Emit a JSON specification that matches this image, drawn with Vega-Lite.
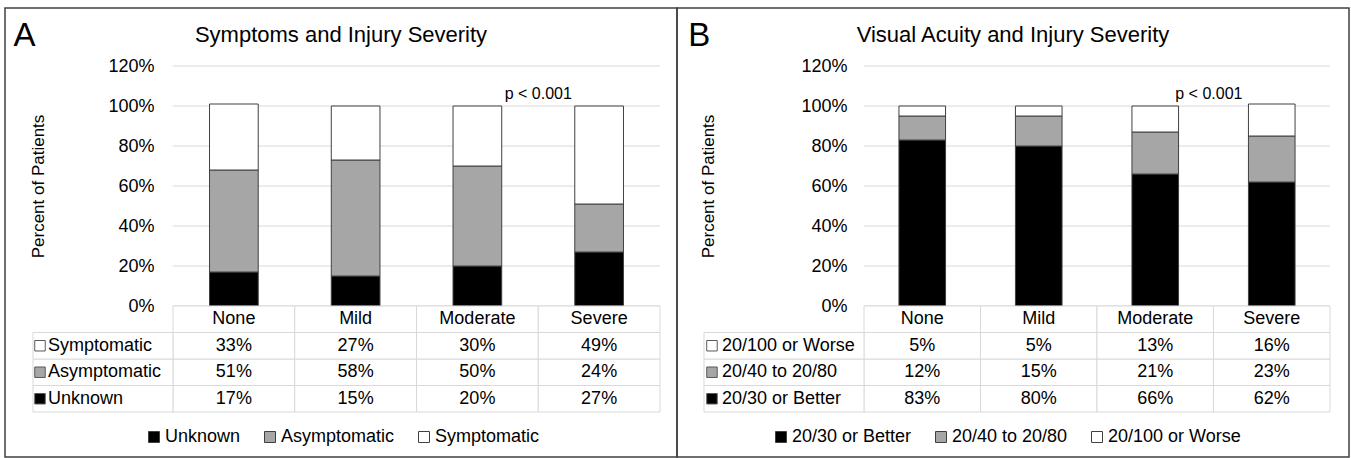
{
  "$schema": "https://vega.github.io/schema/vega-lite/v6.json",
  "padding": {"left": 4, "top": 7, "right": 0, "bottom": 0},
  "autosize": {"type": "pad"},
  "background": "white",
  "spacing": 0,
  "bounds": "flush",
  "resolve": {"scale": {"color": "independent", "fill": "independent", "x": "independent", "y": "independent"}, "legend": {"color": "independent"}},
  "config": {
    "font": "Liberation Sans",
    "view": {"stroke": "#404040", "strokeWidth": 1.5},
    "text": {"color": "black", "font": "Liberation Sans"}
  },
  "datasets": {
    "sym": [
      {"severity": "None", "group": "Unknown", "percent": 17},
      {"severity": "None", "group": "Asymptomatic", "percent": 51},
      {"severity": "None", "group": "Symptomatic", "percent": 33},
      {"severity": "Mild", "group": "Unknown", "percent": 15},
      {"severity": "Mild", "group": "Asymptomatic", "percent": 58},
      {"severity": "Mild", "group": "Symptomatic", "percent": 27},
      {"severity": "Moderate", "group": "Unknown", "percent": 20},
      {"severity": "Moderate", "group": "Asymptomatic", "percent": 50},
      {"severity": "Moderate", "group": "Symptomatic", "percent": 30},
      {"severity": "Severe", "group": "Unknown", "percent": 27},
      {"severity": "Severe", "group": "Asymptomatic", "percent": 24},
      {"severity": "Severe", "group": "Symptomatic", "percent": 49}
    ],
    "va": [
      {"severity": "None", "group": "20/30 or Better", "percent": 83},
      {"severity": "None", "group": "20/40 to 20/80", "percent": 12},
      {"severity": "None", "group": "20/100 or Worse", "percent": 5},
      {"severity": "Mild", "group": "20/30 or Better", "percent": 80},
      {"severity": "Mild", "group": "20/40 to 20/80", "percent": 15},
      {"severity": "Mild", "group": "20/100 or Worse", "percent": 5},
      {"severity": "Moderate", "group": "20/30 or Better", "percent": 66},
      {"severity": "Moderate", "group": "20/40 to 20/80", "percent": 21},
      {"severity": "Moderate", "group": "20/100 or Worse", "percent": 13},
      {"severity": "Severe", "group": "20/30 or Better", "percent": 62},
      {"severity": "Severe", "group": "20/40 to 20/80", "percent": 23},
      {"severity": "Severe", "group": "20/100 or Worse", "percent": 16}
    ],
    "severities": [
      {"severity": "None"}, {"severity": "Mild"}, {"severity": "Moderate"}, {"severity": "Severe"}
    ],
    "grid": [
      {"tick": 0}, {"tick": 20}, {"tick": 40}, {"tick": 60}, {"tick": 80}, {"tick": 100}, {"tick": 120}
    ]
  },
  "hconcat": [
    {
      "width": 672,
      "height": 449,
      "title": {"text": "Symptoms and Injury Severity", "frame": "group", "offset": -49, "baseline": "middle", "anchor": "middle", "fontSize": 22, "fontWeight": "normal", "color": "black", "font": "Liberation Sans"},
      "resolve": {"scale": {"y": "independent"}, "axis": {"y": "independent"}},
      "layer": [
        {
          "data": {"name": "grid"},
          "mark": {"type": "rule", "color": "#d9d9d9", "strokeWidth": 1},
          "encoding": {
            "x": {"datum": "None", "type": "nominal", "bandPosition": 0, "axis": null,
                  "scale": {"type": "band", "domain": ["None", "Mild", "Moderate", "Severe"], "range": [168, 655], "paddingInner": 0, "paddingOuter": 0}},
            "x2": {"datum": "Severe", "bandPosition": 1},
            "y": {"field": "tick", "type": "quantitative", "axis": null,
                  "scale": {"domain": [0, 120], "range": [298, 58], "nice": false, "zero": false}}
          }
        },
        {
          "data": {"name": "sym"},
          "transform": [{"calculate": "indexof(['Unknown','Asymptomatic','Symptomatic'], datum.group)", "as": "rank"}],
          "mark": {"type": "bar", "width": {"band": 0.4}, "stroke": "#404040", "strokeWidth": 1},
          "encoding": {
            "x": {"field": "severity", "type": "nominal", "axis": null},
            "y": {"field": "percent", "type": "quantitative", "stack": "zero",
                  "scale": {"domain": [0, 120], "range": [298, 58], "nice": false, "zero": false},
                  "axis": {"title": "Percent of Patients", "values": [0, 20, 40, 60, 80, 100, 120], "labelExpr": "datum.value + '%'",
                           "grid": false, "ticks": false, "domain": false, "offset": -168, "labelPadding": 19,
                           "labelFontSize": 18, "labelColor": "black", "labelFont": "Liberation Sans",
                           "titleFontSize": 17, "titleFontWeight": "normal", "titleColor": "black", "titleFont": "Liberation Sans", "titlePadding": 60}},
            "order": {"field": "rank", "type": "quantitative"},
            "color": {"field": "group", "type": "nominal", "sort": ["Unknown", "Asymptomatic", "Symptomatic"],
                      "scale": {"domain": ["Unknown", "Asymptomatic", "Symptomatic"], "range": ["#000000", "#a6a6a6", "#ffffff"]},
                      "legend": {"orient": "none", "legendX": 140, "legendY": 420, "direction": "horizontal", "title": null,
                                 "labelFontSize": 18, "labelColor": "black", "labelFont": "Liberation Sans", "symbolType": "square", "symbolSize": 121,
                                 "symbolOpacity": 1, "symbolStrokeColor": "#404040", "symbolStrokeWidth": 1, "columnPadding": 20, "labelOffset": 2}}
          }
        },
        {
          "data": {"values": [{"p": "p < 0.001"}]},
          "mark": {"type": "text", "fontSize": 16, "align": "center", "baseline": "middle"},
          "encoding": {
            "x": {"datum": "Severe", "type": "nominal", "bandPosition": 0, "axis": null},
            "y": {"datum": 106, "type": "quantitative", "axis": null,
                  "scale": {"domain": [0, 120], "range": [298, 58], "nice": false, "zero": false}},
            "text": {"field": "p"}
          }
        },
        {
          "data": {"values": [{"panel": "A"}]},
          "mark": {"type": "text", "fontSize": 33, "align": "center", "baseline": "middle"},
          "encoding": {
            "x": {"datum": "None", "type": "nominal", "bandPosition": -1.22, "axis": null},
            "y": {"datum": 135, "type": "quantitative", "axis": null,
                  "scale": {"domain": [0, 120], "range": [298, 58], "nice": false, "zero": false}},
            "text": {"field": "panel"}
          }
        },
        {
          "data": {"name": "severities"},
          "mark": {"type": "rect", "fill": "white", "stroke": "#d9d9d9", "strokeWidth": 1},
          "encoding": {
            "x": {"field": "severity", "type": "nominal", "axis": null},
            "y": {"datum": "header", "type": "nominal", "axis": null,
                  "scale": {"type": "band", "domain": ["header", "Symptomatic", "Asymptomatic", "Unknown"], "range": [298, 404], "paddingInner": 0, "paddingOuter": 0}}
          }
        },
        {
          "data": {"name": "sym"},
          "mark": {"type": "rect", "fill": "white", "stroke": "#d9d9d9", "strokeWidth": 1},
          "encoding": {
            "x": {"field": "severity", "type": "nominal", "axis": null},
            "y": {"field": "group", "type": "nominal", "axis": null,
                  "scale": {"type": "band", "domain": ["header", "Symptomatic", "Asymptomatic", "Unknown"], "range": [298, 404], "paddingInner": 0, "paddingOuter": 0}}
          }
        },
        {
          "data": {"name": "sym"},
          "transform": [{"filter": "datum.severity === 'None'"}],
          "mark": {"type": "rect", "fill": "white", "stroke": "#d9d9d9", "strokeWidth": 1},
          "encoding": {
            "x": {"datum": "None", "type": "nominal", "bandPosition": -1.15, "axis": null},
            "x2": {"datum": "None", "bandPosition": 0},
            "y": {"field": "group", "type": "nominal", "axis": null,
                  "scale": {"type": "band", "domain": ["header", "Symptomatic", "Asymptomatic", "Unknown"], "range": [298, 404], "paddingInner": 0, "paddingOuter": 0}}
          }
        },
        {
          "data": {"name": "severities"},
          "mark": {"type": "text", "fontSize": 18, "baseline": "middle", "align": "center"},
          "encoding": {
            "x": {"field": "severity", "type": "nominal", "axis": null},
            "y": {"datum": "header", "type": "nominal", "axis": null,
                  "scale": {"type": "band", "domain": ["header", "Symptomatic", "Asymptomatic", "Unknown"], "range": [298, 404], "paddingInner": 0, "paddingOuter": 0}},
            "text": {"field": "severity"}
          }
        },
        {
          "data": {"name": "sym"},
          "transform": [{"calculate": "datum.percent + '%'", "as": "label"}],
          "mark": {"type": "text", "fontSize": 18, "baseline": "middle", "align": "center"},
          "encoding": {
            "x": {"field": "severity", "type": "nominal", "axis": null},
            "y": {"field": "group", "type": "nominal", "axis": null,
                  "scale": {"type": "band", "domain": ["header", "Symptomatic", "Asymptomatic", "Unknown"], "range": [298, 404], "paddingInner": 0, "paddingOuter": 0}},
            "text": {"field": "label"}
          }
        },
        {
          "data": {"name": "sym"},
          "transform": [{"filter": "datum.severity === 'None'"}],
          "mark": {"type": "text", "fontSize": 18, "baseline": "middle", "align": "left"},
          "encoding": {
            "x": {"datum": "None", "type": "nominal", "bandPosition": -1.0267, "axis": null},
            "y": {"field": "group", "type": "nominal", "axis": null,
                  "scale": {"type": "band", "domain": ["header", "Symptomatic", "Asymptomatic", "Unknown"], "range": [298, 404], "paddingInner": 0, "paddingOuter": 0}},
            "text": {"field": "group"}
          }
        },
        {
          "data": {"name": "sym"},
          "transform": [{"filter": "datum.severity === 'None'"}],
          "mark": {"type": "square", "size": 110, "stroke": "#595959", "strokeWidth": 1, "opacity": 1},
          "encoding": {
            "x": {"datum": "None", "type": "nominal", "bandPosition": -1.0924, "axis": null},
            "y": {"field": "group", "type": "nominal", "axis": null,
                  "scale": {"type": "band", "domain": ["header", "Symptomatic", "Asymptomatic", "Unknown"], "range": [298, 404], "paddingInner": 0, "paddingOuter": 0}},
            "fill": {"field": "group", "type": "nominal", "legend": null,
                     "scale": {"domain": ["Unknown", "Asymptomatic", "Symptomatic"], "range": ["#000000", "#a6a6a6", "#ffffff"]}}
          }
        }
      ]
    },
    {
      "width": 672,
      "height": 449,
      "title": {"text": "Visual Acuity and Injury Severity", "frame": "group", "offset": -49, "baseline": "middle", "anchor": "middle", "fontSize": 22, "fontWeight": "normal", "color": "black", "font": "Liberation Sans"},
      "resolve": {"scale": {"y": "independent"}, "axis": {"y": "independent"}},
      "layer": [
        {
          "data": {"name": "grid"},
          "mark": {"type": "rule", "color": "#d9d9d9", "strokeWidth": 1},
          "encoding": {
            "x": {"datum": "None", "type": "nominal", "bandPosition": 0, "axis": null,
                  "scale": {"type": "band", "domain": ["None", "Mild", "Moderate", "Severe"], "range": [187, 653], "paddingInner": 0, "paddingOuter": 0}},
            "x2": {"datum": "Severe", "bandPosition": 1},
            "y": {"field": "tick", "type": "quantitative", "axis": null,
                  "scale": {"domain": [0, 120], "range": [298, 58], "nice": false, "zero": false}}
          }
        },
        {
          "data": {"name": "va"},
          "transform": [{"calculate": "indexof(['20/30 or Better','20/40 to 20/80','20/100 or Worse'], datum.group)", "as": "rank"}],
          "mark": {"type": "bar", "width": {"band": 0.4}, "stroke": "#404040", "strokeWidth": 1},
          "encoding": {
            "x": {"field": "severity", "type": "nominal", "axis": null},
            "y": {"field": "percent", "type": "quantitative", "stack": "zero",
                  "scale": {"domain": [0, 120], "range": [298, 58], "nice": false, "zero": false},
                  "axis": {"title": "Percent of Patients", "values": [0, 20, 40, 60, 80, 100, 120], "labelExpr": "datum.value + '%'",
                           "grid": false, "ticks": false, "domain": false, "offset": -187, "labelPadding": 17,
                           "labelFontSize": 18, "labelColor": "black", "labelFont": "Liberation Sans",
                           "titleFontSize": 17, "titleFontWeight": "normal", "titleColor": "black", "titleFont": "Liberation Sans", "titlePadding": 83}},
            "order": {"field": "rank", "type": "quantitative"},
            "color": {"field": "group", "type": "nominal", "sort": ["20/30 or Better", "20/40 to 20/80", "20/100 or Worse"],
                      "scale": {"domain": ["20/30 or Better", "20/40 to 20/80", "20/100 or Worse"], "range": ["#000000", "#a6a6a6", "#ffffff"]},
                      "legend": {"orient": "none", "legendX": 95, "legendY": 420, "direction": "horizontal", "title": null,
                                 "labelFontSize": 18, "labelColor": "black", "labelFont": "Liberation Sans", "symbolType": "square", "symbolSize": 121,
                                 "symbolOpacity": 1, "symbolStrokeColor": "#404040", "symbolStrokeWidth": 1, "columnPadding": 20, "labelOffset": 2}}
          }
        },
        {
          "data": {"values": [{"p": "p < 0.001"}]},
          "mark": {"type": "text", "fontSize": 16, "align": "center", "baseline": "middle"},
          "encoding": {
            "x": {"datum": "Severe", "type": "nominal", "bandPosition": -0.04, "axis": null},
            "y": {"datum": 106, "type": "quantitative", "axis": null,
                  "scale": {"domain": [0, 120], "range": [298, 58], "nice": false, "zero": false}},
            "text": {"field": "p"}
          }
        },
        {
          "data": {"values": [{"panel": "B"}]},
          "mark": {"type": "text", "fontSize": 33, "align": "center", "baseline": "middle"},
          "encoding": {
            "x": {"datum": "None", "type": "nominal", "bandPosition": -1.415, "axis": null},
            "y": {"datum": 135, "type": "quantitative", "axis": null,
                  "scale": {"domain": [0, 120], "range": [298, 58], "nice": false, "zero": false}},
            "text": {"field": "panel"}
          }
        },
        {
          "data": {"name": "severities"},
          "mark": {"type": "rect", "fill": "white", "stroke": "#d9d9d9", "strokeWidth": 1},
          "encoding": {
            "x": {"field": "severity", "type": "nominal", "axis": null},
            "y": {"datum": "header", "type": "nominal", "axis": null,
                  "scale": {"type": "band", "domain": ["header", "20/100 or Worse", "20/40 to 20/80", "20/30 or Better"], "range": [298, 404], "paddingInner": 0, "paddingOuter": 0}}
          }
        },
        {
          "data": {"name": "va"},
          "mark": {"type": "rect", "fill": "white", "stroke": "#d9d9d9", "strokeWidth": 1},
          "encoding": {
            "x": {"field": "severity", "type": "nominal", "axis": null},
            "y": {"field": "group", "type": "nominal", "axis": null,
                  "scale": {"type": "band", "domain": ["header", "20/100 or Worse", "20/40 to 20/80", "20/30 or Better"], "range": [298, 404], "paddingInner": 0, "paddingOuter": 0}}
          }
        },
        {
          "data": {"name": "va"},
          "transform": [{"filter": "datum.severity === 'None'"}],
          "mark": {"type": "rect", "fill": "white", "stroke": "#d9d9d9", "strokeWidth": 1},
          "encoding": {
            "x": {"datum": "None", "type": "nominal", "bandPosition": -1.3734, "axis": null},
            "x2": {"datum": "None", "bandPosition": 0},
            "y": {"field": "group", "type": "nominal", "axis": null,
                  "scale": {"type": "band", "domain": ["header", "20/100 or Worse", "20/40 to 20/80", "20/30 or Better"], "range": [298, 404], "paddingInner": 0, "paddingOuter": 0}}
          }
        },
        {
          "data": {"name": "severities"},
          "mark": {"type": "text", "fontSize": 18, "baseline": "middle", "align": "center"},
          "encoding": {
            "x": {"field": "severity", "type": "nominal", "axis": null},
            "y": {"datum": "header", "type": "nominal", "axis": null,
                  "scale": {"type": "band", "domain": ["header", "20/100 or Worse", "20/40 to 20/80", "20/30 or Better"], "range": [298, 404], "paddingInner": 0, "paddingOuter": 0}},
            "text": {"field": "severity"}
          }
        },
        {
          "data": {"name": "va"},
          "transform": [{"calculate": "datum.percent + '%'", "as": "label"}],
          "mark": {"type": "text", "fontSize": 18, "baseline": "middle", "align": "center"},
          "encoding": {
            "x": {"field": "severity", "type": "nominal", "axis": null},
            "y": {"field": "group", "type": "nominal", "axis": null,
                  "scale": {"type": "band", "domain": ["header", "20/100 or Worse", "20/40 to 20/80", "20/30 or Better"], "range": [298, 404], "paddingInner": 0, "paddingOuter": 0}},
            "text": {"field": "label"}
          }
        },
        {
          "data": {"name": "va"},
          "transform": [{"filter": "datum.severity === 'None'"}],
          "mark": {"type": "text", "fontSize": 18, "baseline": "middle", "align": "left"},
          "encoding": {
            "x": {"datum": "None", "type": "nominal", "bandPosition": -1.219, "axis": null},
            "y": {"field": "group", "type": "nominal", "axis": null,
                  "scale": {"type": "band", "domain": ["header", "20/100 or Worse", "20/40 to 20/80", "20/30 or Better"], "range": [298, 404], "paddingInner": 0, "paddingOuter": 0}},
            "text": {"field": "group"}
          }
        },
        {
          "data": {"name": "va"},
          "transform": [{"filter": "datum.severity === 'None'"}],
          "mark": {"type": "square", "size": 110, "stroke": "#595959", "strokeWidth": 1, "opacity": 1},
          "encoding": {
            "x": {"datum": "None", "type": "nominal", "bandPosition": -1.305, "axis": null},
            "y": {"field": "group", "type": "nominal", "axis": null,
                  "scale": {"type": "band", "domain": ["header", "20/100 or Worse", "20/40 to 20/80", "20/30 or Better"], "range": [298, 404], "paddingInner": 0, "paddingOuter": 0}},
            "fill": {"field": "group", "type": "nominal", "legend": null,
                     "scale": {"domain": ["20/30 or Better", "20/40 to 20/80", "20/100 or Worse"], "range": ["#000000", "#a6a6a6", "#ffffff"]}}
          }
        }
      ]
    }
  ]
}
